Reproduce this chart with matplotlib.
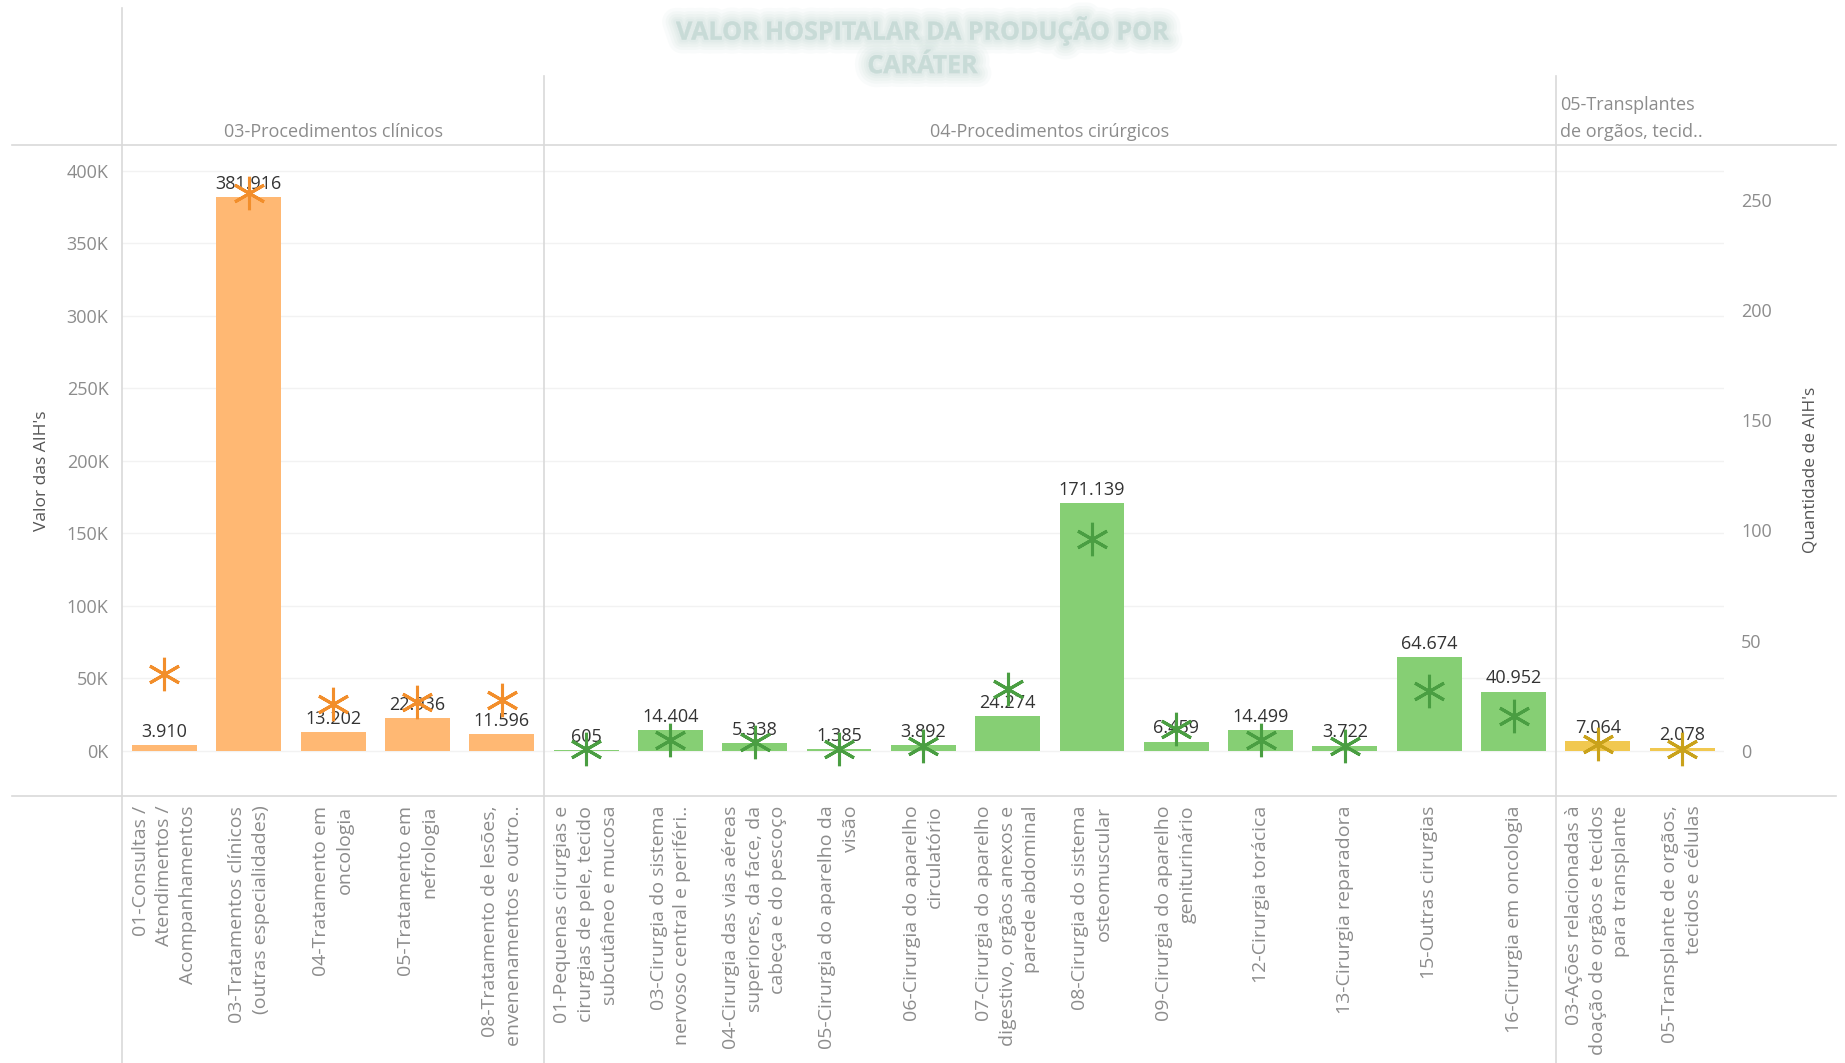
import numpy as np
import matplotlib.pyplot as plt
from matplotlib import patheffects

plt.rcParams['font.family'] = ['Open Sans', 'DejaVu Sans']

# dados
categorias = [
    "01-Consultas /\nAtendimentos /\nAcompanhamentos",
    "03-Tratamentos clínicos\n(outras especialidades)",
    "04-Tratamento em\noncologia",
    "05-Tratamento em\nnefrologia",
    "08-Tratamento de lesões,\nenvenenamentos e outro..",
    "01-Pequenas cirurgias e\ncirurgias de pele, tecido\nsubcutâneo e mucosa",
    "03-Cirurgia do sistema\nnervoso central e periféri..",
    "04-Cirurgia das vias aéreas\nsuperiores, da face, da\ncabeça e do pescoço",
    "05-Cirurgia do aparelho da\nvisão",
    "06-Cirurgia do aparelho\ncirculatório",
    "07-Cirurgia do aparelho\ndigestivo, orgãos anexos e\nparede abdominal",
    "08-Cirurgia do sistema\nosteomuscular",
    "09-Cirurgia do aparelho\ngeniturinário",
    "12-Cirurgia torácica",
    "13-Cirurgia reparadora",
    "15-Outras cirurgias",
    "16-Cirurgia em oncologia",
    "03-Ações relacionadas à\ndoação de orgãos e tecidos\npara transplante",
    "05-Transplante de orgãos,\ntecidos e células",
]
grupo = [0, 0, 0, 0, 0, 1, 1, 1, 1, 1, 1, 1, 1, 1, 1, 1, 1, 2, 2]
grupos_nomes = ["03-Procedimentos clínicos", "04-Procedimentos cirúrgicos",
                "05-Transplantes\nde orgãos, tecid.."]
valor_aih = [3910, 381916, 13202, 22936, 11596, 605, 14404, 5338, 1385, 3892,
             24274, 171139, 6459, 14499, 3722, 64674, 40952, 7064, 2078]
qtd_aih = [35, 253, 21, 22, 23, 1, 5, 4, 1, 2, 28, 96, 10, 5, 2, 27, 16, 3, 1]

cor_barra = ['#FFB873', '#86CF74', '#F1C850']
cor_marca = ['#F28E2B', '#4A9E42', '#C9A21B']
cinza = '#8c8c8c'
linha = '#d9d9d9'

fig = plt.figure(figsize=(18.45, 10.63), dpi=100)
ax = fig.add_axes([0.0663, 0.2512, 0.8683, 0.6128])
ax2 = ax.twinx()

x = np.arange(len(categorias))
ax.bar(x, valor_aih, width=0.77, color=[cor_barra[g] for g in grupo], zorder=2)
for xi, v in zip(x, valor_aih):
    ax.annotate(f"{v:,}".replace(",", "."), (xi, v), xytext=(0, 3),
                textcoords='offset points', ha='center', va='bottom',
                fontsize=13, color='#333333', zorder=5)

for g in range(3):
    idx = [i for i in x if grupo[i] == g]
    ax2.plot(idx, [qtd_aih[i] for i in idx], linestyle='none',
             marker=(6, 2, 0), markersize=24, markeredgewidth=2.2,
             color=cor_marca[g], zorder=4)

ax.set_xlim(-0.5, len(categorias) - 0.5)
ax.set_ylim(-31000, 418000)
ax2.set_ylim(-20.5, 275)

ax.set_yticks(range(0, 400001, 50000))
ax.set_yticklabels([f"{t // 1000}K" for t in range(0, 400001, 50000)])
ax2.set_yticks(range(0, 251, 50))
ax.set_xticks(x)
ax.set_xticklabels(categorias, rotation=90, ha='center', va='top',
                   multialignment='right', linespacing=1.4)
ax.tick_params(axis='x', length=0, pad=7, labelsize=14, labelcolor=cinza)
ax.tick_params(axis='y', length=0, pad=10, labelsize=13, labelcolor=cinza)
ax2.tick_params(axis='y', length=0, pad=12, labelsize=13, labelcolor=cinza)
ax.yaxis.grid(True, color='#f2f2f2', lw=1, zorder=0)
ax.set_axisbelow(True)
for a in (ax, ax2):
    for s in a.spines.values():
        s.set_visible(False)

ax.set_ylabel("Valor das AIH's", fontsize=12.5, color='#555555', labelpad=12)
ax2.set_ylabel("Quantidade de AIH's", fontsize=12.5, color='#555555', labelpad=22)

# linhas de cabeçalho e separadores
tr = ax.get_xaxis_transform()
ax.plot([-0.5, -0.5], [-0.41, 1.21], transform=tr, color=linha, lw=1.2, clip_on=False)
for sep in (4.5, 16.5):
    ax.plot([sep, sep], [-0.41, 1.105], transform=tr, color=linha, lw=1.2, clip_on=False)
for yy in (0.0, 1.0):
    ax.plot([-0.069, 1.07], [yy, yy], transform=ax.transAxes, color=linha,
            lw=1.2, clip_on=False)

ax.text(2, 1.006, grupos_nomes[0], transform=tr, ha='center', va='bottom',
        fontsize=13, color=cinza)
ax.text(10.5, 1.006, grupos_nomes[1], transform=tr, ha='center', va='bottom',
        fontsize=13, color=cinza)
ax.text(16.55, 1.006, grupos_nomes[2], transform=tr, ha='left', va='bottom',
        fontsize=13, color=cinza, linespacing=1.6)

# titulo borrado (um unico texto com efeito de desfoque)
titulo = "VALOR HOSPITALAR DA PRODUÇÃO POR\nCARÁTER"
borrao = [patheffects.withStroke(linewidth=w, foreground='#d3e3df', alpha=a)
          for w, a in ((20, 0.12), (15, 0.15), (11, 0.18), (7, 0.22), (4, 0.25))]
fig.text(0.5, 0.955, titulo, ha='center', va='center', fontsize=18,
         fontweight='bold', color='#c6dad6', alpha=0.25, linespacing=1.45,
         path_effects=borrao + [patheffects.Normal()])

fig.savefig('out.png', dpi=100, facecolor='white')
